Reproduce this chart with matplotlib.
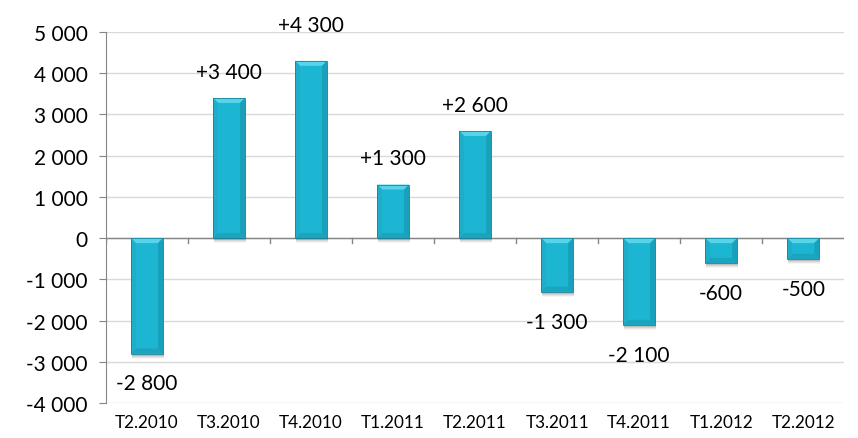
import matplotlib
matplotlib.use("Agg")
import matplotlib.pyplot as plt
from matplotlib.patches import Polygon, Rectangle
import numpy as np

quarters = ["T2.2010", "T3.2010", "T4.2010", "T1.2011", "T2.2011",
            "T3.2011", "T4.2011", "T1.2012", "T2.2012"]
changes = [-2800, 3400, 4300, 1300, 2600, -1300, -2100, -600, -500]
y_ticks = [-4000, -3000, -2000, -1000, 0, 1000, 2000, 3000, 4000, 5000]

FONT = ["Lato", "DejaVu Sans"]
plt.rcParams["font.family"] = FONT

def fmt(v, sign=False):
    s = f"{abs(v):,}".replace(",", " ")
    if v < 0:
        return "-" + s
    return ("+" + s) if (sign and v > 0) else s

fig = plt.figure(figsize=(8.58, 4.39), dpi=100)
ax = fig.add_axes([0.1235, 0.0797, 0.8605, 0.8451])
x = np.arange(len(quarters))
ax.set_xlim(-0.5, len(quarters) - 0.5)
ax.set_ylim(-4000, 5000)

bar_w = 0.39
face = "#1DB6D2"
bars = ax.bar(x, changes, width=bar_w, color=face, edgecolor="none", zorder=3)

# pixel -> data scale for the bevel and shadow
fig.canvas.draw()
p0 = ax.transData.transform((0, 0))
p1 = ax.transData.transform((1, 1000))
dx_px = (p1[0] - p0[0])
dy_px = (p1[1] - p0[1]) / 1000.0
bev_x = 5.0 / dx_px
bev_y = 5.0 / dy_px

for b in bars:
    x0 = b.get_x()
    x1 = x0 + b.get_width()
    ya, yb = sorted((b.get_y(), b.get_y() + b.get_height()))
    # soft shadow
    for k, a in zip([5, 4, 3, 2], [0.04, 0.06, 0.08, 0.10]):
        ax.add_patch(Rectangle((x0 + 1.0 / dx_px, ya - k / dy_px),
                               x1 - x0, yb - ya, facecolor="black",
                               alpha=a, edgecolor="none", zorder=2))
    top = Polygon([(x0, yb), (x1, yb), (x1 - bev_x, yb - bev_y), (x0 + bev_x, yb - bev_y)],
                  closed=True, facecolor="#58D4EA", edgecolor="none", zorder=4)
    bottom = Polygon([(x0, ya), (x1, ya), (x1 - bev_x, ya + bev_y), (x0 + bev_x, ya + bev_y)],
                     closed=True, facecolor="#1AA4BE", edgecolor="none", zorder=4)
    left = Polygon([(x0, ya), (x0, yb), (x0 + bev_x, yb - bev_y), (x0 + bev_x, ya + bev_y)],
                   closed=True, facecolor="#1EAECA", edgecolor="none", zorder=4)
    right = Polygon([(x1, ya), (x1, yb), (x1 - bev_x, yb - bev_y), (x1 - bev_x, ya + bev_y)],
                    closed=True, facecolor="#19A1BB", edgecolor="none", zorder=4)
    for p in (top, bottom, left, right):
        ax.add_patch(p)
    ax.add_patch(Rectangle((x0, ya), x1 - x0, yb - ya, facecolor="none",
                           edgecolor="#14869D", linewidth=0.6, zorder=5))

# value labels: outside end of each bar; the tallest one is lifted clear of the top gridline
top_val = max(changes)
for xi, v in zip(x, changes):
    if v > 0:
        off = 26 if v == top_val else 19
        ax.annotate(fmt(v, sign=True), (xi, v), xytext=(0, off), textcoords="offset points",
                    ha="center", va="center", fontsize=15, color="black", zorder=6,
                    annotation_clip=False)
    else:
        ax.annotate(fmt(v), (xi, v), xytext=(0, -21.5), textcoords="offset points",
                    ha="center", va="center", fontsize=15, color="black", zorder=6)

# grid and axes
ax.set_yticks(y_ticks)
ax.set_yticklabels([fmt(t) for t in y_ticks], fontsize=15)
ax.yaxis.grid(True, color="#D9D9D9", linewidth=1.0, zorder=0)
ax.set_axisbelow(True)
for s in ("top", "right", "bottom"):
    ax.spines[s].set_visible(False)
ax.spines["left"].set_color("#868686")
ax.tick_params(axis="y", direction="out", length=5, color="#868686", pad=8)

# x axis sits on the zero line with ticks between categories
ax.axhline(0, color="#868686", linewidth=1.0, zorder=1)
ax.set_xticks(x)
ax.set_xticklabels([])
ax.tick_params(axis="x", length=0)
for b_x in np.arange(0.5, len(quarters) - 0.5, 1.0):
    ax.plot([b_x, b_x], [0, -5 / dy_px], color="#868686", linewidth=1.0,
            zorder=1, clip_on=False)
ax.plot([-0.5, -0.5], [0, -5 / dy_px], color="#868686", linewidth=1.0, zorder=1)
for xi, q in zip(x, quarters):
    ax.annotate(q, (xi, -4000), xytext=(0, -14), textcoords="offset points",
                ha="center", va="center", fontsize=12.3, color="black",
                annotation_clip=False)

fig.savefig("out.png", dpi=100, facecolor="white")
